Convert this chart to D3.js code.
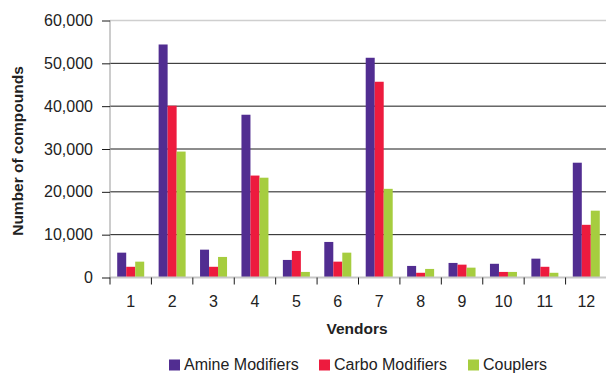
<!DOCTYPE html>
<html>
<head>
<meta charset="utf-8">
<script src="https://cdn.jsdelivr.net/npm/d3@7"></script>
<style>
	body { margin: 0; background: #fff; }
	svg { display: block; font-family: "Liberation Sans", Arial, sans-serif; }
</style>
</head>
<body>
<svg width="606" height="374"></svg>
<script>
'use strict';

const vendors = ["1", "2", "3", "4", "5", "6", "7", "8", "9", "10", "11", "12"];
const seriesNames = ["Amine Modifiers", "Carbo Modifiers", "Couplers"];
const amine = [5800, 54400, 6500, 38000, 4100, 8300, 51300, 2700, 3400, 3200, 4400, 26800];
const carbo = [2500, 40100, 2500, 23800, 6200, 3700, 45700, 1100, 3000, 1300, 2500, 12300];
const couplers = [3700, 29400, 4800, 23300, 1300, 5800, 20700, 2000, 2300, 1300, 1100, 15600];
const yTicks = [0, 10000, 20000, 30000, 40000, 50000, 60000];
const colors = ["#512d91", "#ed1b3e", "#a6cd3f"];

const svg = d3.select("svg");
const plotLeft = 110, plotRight = 607, plotTop = 20.5, plotBottom = 277.5;
const fontSize = 16;

const x = d3.scaleBand().domain(vendors).range([plotLeft, plotRight]);
const xs = d3.scaleBand().domain(seriesNames).range([0, 27]);
const y = d3.scaleLinear().domain([0, 60000]).range([plotBottom, plotTop]);

const rows = vendors.map((v, i) => ({ vendor: v, values: [amine[i], carbo[i], couplers[i]] }));

// gridlines
svg.append("g")
	.selectAll("line")
	.data(yTicks.filter(t => t > 0 && t < 60000))
	.enter().append("line")
	.attr("x1", plotLeft).attr("x2", plotRight)
	.attr("y1", d => y(d)).attr("y2", d => y(d))
	.attr("stroke", "#1a1a1a").attr("stroke-width", 1);

svg.append("line")
	.attr("x1", plotLeft).attr("x2", plotRight)
	.attr("y1", y(60000)).attr("y2", y(60000))
	.attr("stroke", "#cfcfcf").attr("stroke-width", 1.5);

// bars
const groups = svg.append("g")
	.selectAll("g")
	.data(rows)
	.enter().append("g")
	.attr("transform", d => `translate(${x(d.vendor) + (x.bandwidth() - 27) / 2},0)`);

groups.selectAll("rect")
	.data(d => d.values.map((v, i) => ({ name: seriesNames[i], value: v, i: i })))
	.enter().append("rect")
	.attr("x", d => xs(d.name))
	.attr("width", xs.bandwidth())
	.attr("y", d => y(d.value))
	.attr("height", d => y(0) - y(d.value))
	.attr("fill", d => colors[d.i]);

// baseline and left axis line
svg.append("line")
	.attr("x1", plotLeft).attr("x2", plotRight)
	.attr("y1", plotBottom).attr("y2", plotBottom)
	.attr("stroke", "#c8c8c8").attr("stroke-width", 2);
svg.append("line")
	.attr("x1", plotLeft).attr("x2", plotLeft)
	.attr("y1", plotTop).attr("y2", plotBottom)
	.attr("stroke", "#999").attr("stroke-width", 1);

// y axis
const yAxis = svg.append("g")
	.attr("transform", `translate(${plotLeft},0)`)
	.call(d3.axisLeft(y).tickValues(yTicks).tickFormat(d3.format(",")).tickSize(8).tickPadding(9));
yAxis.select(".domain").remove();
yAxis.selectAll(".tick line").attr("stroke", "#1a1a1a");
yAxis.selectAll("text").attr("font-size", fontSize).attr("fill", "#222")
	.attr("font-family", "Liberation Sans, Arial, sans-serif");

// x axis
const xAxis = svg.append("g")
	.attr("transform", `translate(0,${plotBottom})`)
	.call(d3.axisBottom(x).tickSize(0).tickPadding(18));
xAxis.select(".domain").remove();
xAxis.selectAll("text").attr("font-size", fontSize).attr("fill", "#222")
	.attr("font-family", "Liberation Sans, Arial, sans-serif");

// x ticks at band edges
svg.append("g")
	.selectAll("line")
	.data(vendors)
	.enter().append("line")
	.attr("x1", d => x(d)).attr("x2", d => x(d))
	.attr("y1", plotBottom).attr("y2", plotBottom + 7)
	.attr("stroke", "#1a1a1a");

// axis titles
svg.append("text")
	.attr("x", 357).attr("y", 334)
	.attr("text-anchor", "middle")
	.attr("font-size", 15.5).attr("font-weight", "bold").attr("fill", "#222")
	.text("Vendors");

svg.append("text")
	.attr("transform", "translate(23,151) rotate(-90)")
	.attr("text-anchor", "middle")
	.attr("font-size", 15.5).attr("font-weight", "bold").attr("fill", "#222")
	.text("Number of compounds");

// legend
const legendX = [169, 319, 468];
const legend = svg.append("g")
	.selectAll("g")
	.data(seriesNames)
	.enter().append("g")
	.attr("transform", (d, i) => `translate(${legendX[i]},359.5)`);
legend.append("rect")
	.attr("width", 11).attr("height", 11)
	.attr("fill", (d, i) => colors[i]);
legend.append("text")
	.attr("x", 15).attr("y", 10.5)
	.attr("font-size", fontSize).attr("fill", "#222")
	.text(d => d);
</script>
</body>
</html>
